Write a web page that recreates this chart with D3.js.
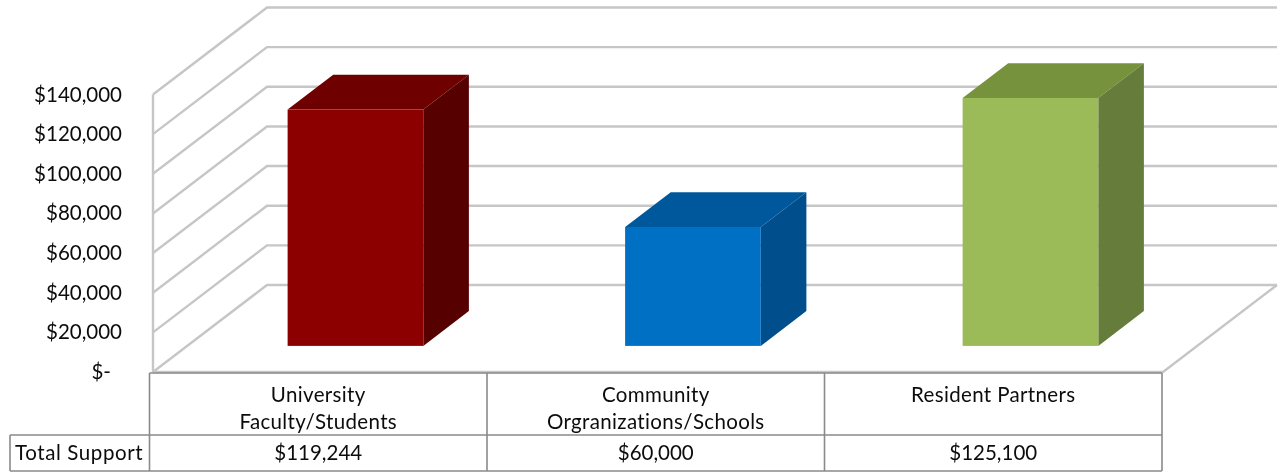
<!DOCTYPE html>
<html>
<head>
<meta charset="utf-8">
<script src="https://cdn.jsdelivr.net/npm/d3@7"></script>
<style>
  html, body { margin: 0; padding: 0; background: #fff; }
  svg { filter: blur(0.4px); }
  text { font-family: Lato, "Open Sans", sans-serif; fill: #0c0c0c; }
</style>
</head>
<body>
<svg id="chart" width="1280" height="475"></svg>
<script>
const categories = [['University', 'Faculty/Students'], ['Community', 'Orgranizations/Schools'], ['Resident Partners']];
const totals = [119244, 60000, 125100];
const totalLabels = ['$119,244', '$60,000', '$125,100'];
const rowLabel = 'Total Support';
const yTicks = [0, 20000, 40000, 60000, 80000, 100000, 120000, 140000];
const frontColors = ['#8c0000', '#0070c4', '#9bbb59'];
const topColors = ['#6f0000', '#00589c', '#76923c'];
const sideColors = ['#560000', '#004f8c', '#667c3a'];

const svg = d3.select('#chart');

// front edge of the floor
const left = 153;
const right = 1163;
const zero = 372;
const top140 = 94.5;

// how far the back wall is pushed away from the front edge
const depthX = 114;
const depthY = -87;

const y = d3.scaleLinear().domain([0, 140000]).range([zero, top140]);
const x = d3.scaleBand().domain(d3.range(categories.length)).range([149.5, 1162]);

// depth 0 = front edge of the floor, depth 1 = back wall
const depth = d3.scaleLinear().domain([0, 1]);
const dx = depth.copy().range([0, depthX]);
const dy = depth.copy().range([0, depthY]);

const barFront = 0.3;
const barBack = 0.7;
const barWidth = x.bandwidth() * 0.402;
const barShift = 3;

const poly = pts => pts.map(p => p.join(',')).join(' ');
const gridColor = '#c6c6c6';

// walls
const grid = svg.append('g').attr('fill', 'none').attr('stroke', gridColor).attr('stroke-width', 2.4);
yTicks.forEach(t => {
  grid.append('polyline')
    .attr('points', poly([[left, y(t)], [left + dx(1), y(t) + dy(1)], [right + dx(1), y(t) + dy(1)]]));
});
grid.append('line')
  .attr('x1', left).attr('x2', left)
  .attr('y1', y(140000)).attr('y2', y(0));
grid.append('polyline')
  .attr('points', poly([[right + dx(1), y(0) + dy(1)], [right, y(0)], [left, y(0)]]));

// bars
totals.forEach((v, i) => {
  const cx = x(i) + x.bandwidth() / 2 + dx(barFront) + barShift;
  const x0 = cx - barWidth / 2;
  const x1 = cx + barWidth / 2;
  const base = y(0) + dy(barFront);
  const head = y(v) + dy(barFront);
  const ox = dx(barBack) - dx(barFront);
  const oy = dy(barBack) - dy(barFront);

  svg.append('polygon')
    .attr('points', poly([[x0, head], [x0 + ox, head + oy], [x1 + ox, head + oy], [x1, head]]))
    .attr('fill', topColors[i]);
  svg.append('polygon')
    .attr('points', poly([[x1, head], [x1 + ox, head + oy], [x1 + ox, base + oy], [x1, base]]))
    .attr('fill', sideColors[i]);
  svg.append('rect')
    .attr('x', x0).attr('y', head)
    .attr('width', barWidth).attr('height', base - head)
    .attr('fill', frontColors[i]);
});

// y labels
const fmt = d3.format(',');
svg.append('g').selectAll('text').data(yTicks).join('text')
  .attr('x', t => t === 0 ? 111 : 122)
  .attr('y', t => y(t) + 7)
  .attr('text-anchor', 'end')
  .attr('font-size', 20.5)
  .text(t => t === 0 ? '$-' : '$' + fmt(t));

// data table
const tableTop = 373;
const rowLine = 435;
const tableBottom = 471;
const tableLeft = 10;
const colX = d3.scaleLinear().domain([0, categories.length]).range([149.5, 1162]);

const table = svg.append('g').attr('stroke', '#8a8a8a').attr('stroke-width', 1.6);
table.append('line').attr('x1', colX(0)).attr('x2', colX(3)).attr('y1', tableTop).attr('y2', tableTop);
table.append('line').attr('x1', tableLeft).attr('x2', colX(3)).attr('y1', rowLine).attr('y2', rowLine);
table.append('line').attr('x1', tableLeft).attr('x2', colX(3)).attr('y1', tableBottom).attr('y2', tableBottom);
table.append('line').attr('x1', tableLeft).attr('x2', tableLeft).attr('y1', rowLine).attr('y2', tableBottom);
d3.range(categories.length + 1).forEach(i => {
  table.append('line').attr('x1', colX(i)).attr('x2', colX(i)).attr('y1', tableTop).attr('y2', tableBottom);
});

categories.forEach((lines, i) => {
  const cx = (colX(i) + colX(i + 1)) / 2;
  lines.forEach((line, j) => {
    svg.append('text')
      .attr('x', cx).attr('y', 402 + j * 27)
      .attr('text-anchor', 'middle')
      .attr('font-size', 20.5)
      .attr('letter-spacing', 0.35)
      .text(line);
  });
  svg.append('text')
    .attr('x', cx).attr('y', 460)
    .attr('text-anchor', 'middle')
    .attr('font-size', 20.5)
    .text(totalLabels[i]);
});
svg.append('text')
  .attr('x', 15).attr('y', 460)
  .attr('font-size', 20.5)
  .attr('letter-spacing', 0.6)
  .text(rowLabel);
</script>
</body>
</html>
